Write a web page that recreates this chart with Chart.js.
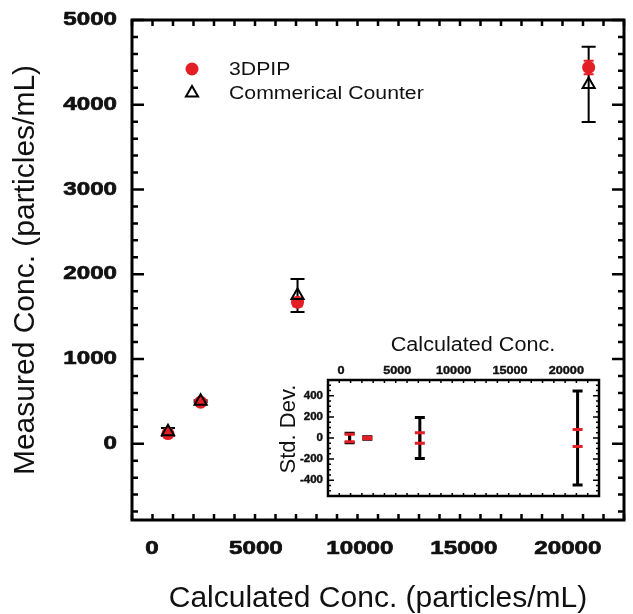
<!DOCTYPE html>
<html>
<head>
<meta charset="utf-8">
<script src="https://cdn.jsdelivr.net/npm/chart.js@4.4.1/dist/chart.umd.min.js"></script>
<style>
  html, body { margin: 0; padding: 0; background: #fff; }
  #wrap { position: relative; width: 633px; height: 614px; }
  #main { position: absolute; left: 0; top: 0; }
  #inset { position: absolute; left: 270px; top: 325px; }
</style>
</head>
<body>
<div id="wrap">
  <canvas id="main" width="633" height="614"></canvas>
  <canvas id="inset" width="340" height="180"></canvas>
</div>
<script>
// data
const seriesNames = ['3DPIP', 'Commerical Counter'];
const calcConc = [770, 2340, 7000, 21000];
const pipConc = [120, 490, 1670, 4440];
const pipSd = [35, 8, 50, 80];
const counterConc = [140, 500, 1750, 4240];
const counterSd = [45, 12, 195, 445];
const xTickLabels = [0, 5000, 10000, 15000, 20000];
const yTickLabels = [0, 1000, 2000, 3000, 4000, 5000];
const insetYTickLabels = [-400, -200, 0, 200, 400];

const RED = '#e31e25';
const INK = '#111';
const FONT = "'Liberation Sans', Arial, sans-serif";

function pts(xs, ys) { return xs.map((x, i) => ({x: x, y: ys[i]})); }

// the figure's lettering is a bit wide, so text gets a horizontal stretch
function text(ctx, str, x, y, o) {
  ctx.save();
  ctx.translate(x, y);
  if (o.rot) ctx.rotate(o.rot);
  ctx.scale(o.sx || 1, 1);
  ctx.font = o.font;
  ctx.fillStyle = INK;
  ctx.textAlign = o.align || 'center';
  ctx.textBaseline = 'middle';
  ctx.fillText(str, 0, 0);
  if (o.heavy) {
    ctx.strokeStyle = INK;
    ctx.lineWidth = o.heavy;
    ctx.lineJoin = 'round';
    ctx.strokeText(str, 0, 0);
  }
  ctx.restore();
}

// box round the plot with inward ticks on all four sides
function drawFrame(chart, o) {
  const {ctx, chartArea: a} = chart;
  const xs = chart.scales.x, ys = chart.scales.y;
  ctx.save();
  ctx.strokeStyle = '#000';
  ctx.lineWidth = o.tickWidth;
  ctx.beginPath();
  xs.ticks.forEach(t => {
    const p = xs.getPixelForValue(t.value);
    const L = t.value % o.xMajor === 0 ? o.major : o.minor;
    ctx.moveTo(p, a.bottom); ctx.lineTo(p, a.bottom - L);
    ctx.moveTo(p, a.top); ctx.lineTo(p, a.top + L);
  });
  ys.ticks.forEach(t => {
    const p = ys.getPixelForValue(t.value);
    const L = t.value % o.yMajor === 0 ? o.major : o.minor;
    ctx.moveTo(a.left, p); ctx.lineTo(a.left + L, p);
    ctx.moveTo(a.right, p); ctx.lineTo(a.right - L, p);
  });
  ctx.stroke();
  ctx.lineWidth = o.frameWidth;
  ctx.strokeRect(a.left, a.top, a.right - a.left, a.bottom - a.top);
  ctx.restore();
}

// vertical error bars, drawn from the scales
function drawBars(chart, bars) {
  const ctx = chart.ctx;
  const xs = chart.scales.x, ys = chart.scales.y;
  ctx.save();
  bars.forEach(b => {
    ctx.strokeStyle = b.color;
    ctx.lineWidth = b.width;
    b.x.forEach((xv, i) => {
      const px = xs.getPixelForValue(xv);
      const c = b.y ? b.y[i] : 0;
      const top = ys.getPixelForValue(c + b.sd[i]);
      const bot = ys.getPixelForValue(c - b.sd[i]);
      ctx.beginPath();
      if (b.stem) { ctx.moveTo(px, top); ctx.lineTo(px, bot); }
      if (b.caps) {
        ctx.moveTo(px - b.cap, top); ctx.lineTo(px + b.cap, top);
        ctx.moveTo(px - b.cap, bot); ctx.lineTo(px + b.cap, bot);
      }
      ctx.stroke();
    });
  });
  ctx.restore();
}

const mainPlugin = {
  id: 'mainDecor',
  beforeDatasetsDraw(chart) {
    drawBars(chart, [
      {x: calcConc, y: counterConc, sd: counterSd, color: '#000', width: 2, cap: 7, stem: true, caps: true},
      {x: calcConc, y: pipConc, sd: pipSd, color: RED, width: 2, cap: 5, stem: true, caps: true}
    ]);
  },
  afterDraw(chart) {
    const {ctx, chartArea: a, scales: {x, y}} = chart;
    drawFrame(chart, {xMajor: 5000, yMajor: 1000, major: 12, minor: 6, tickWidth: 2.5, frameWidth: 3});
    const tickFont = 'bold 19px ' + FONT;
    xTickLabels.forEach(v => text(ctx, String(v), x.getPixelForValue(v), a.bottom + 29, {font: tickFont, sx: 1.27, heavy: 0.7}));
    yTickLabels.forEach(v => text(ctx, String(v), a.left - 15, y.getPixelForValue(v), {font: tickFont, sx: 1.27, heavy: 0.7, align: 'right'}));
    text(ctx, 'Calculated Conc. (particles/mL)', (a.left + a.right) / 2, 599, {font: '30px ' + FONT});
    text(ctx, 'Measured Conc. (particles/mL)', 26, (a.top + a.bottom) / 2, {font: '30px ' + FONT, rot: -Math.PI / 2});

    // legend
    ctx.save();
    ctx.fillStyle = RED; ctx.strokeStyle = RED;
    Chart.helpers.drawPoint(ctx, {pointStyle: 'circle', radius: 6.5, borderWidth: 0}, 192, 69);
    ctx.fillStyle = 'rgba(0,0,0,0)'; ctx.strokeStyle = '#000'; ctx.lineWidth = 2;
    Chart.helpers.drawPoint(ctx, {pointStyle: 'triangle', radius: 7, borderWidth: 2}, 192, 93);
    ctx.restore();
    text(ctx, seriesNames[0], 229, 70, {font: '18px ' + FONT, sx: 1.18, align: 'left'});
    text(ctx, seriesNames[1], 229, 94, {font: '18px ' + FONT, sx: 1.18, align: 'left'});
  }
};

const insetPlugin = {
  id: 'insetDecor',
  beforeDraw(chart) {
    const {ctx, chartArea: a} = chart;
    ctx.save();
    ctx.fillStyle = '#fff';
    ctx.fillRect(a.left, a.top, a.right - a.left, a.bottom - a.top);
    ctx.restore();
  },
  afterDraw(chart) {
    const {ctx, chartArea: a, scales: {x, y}} = chart;
    drawBars(chart, [
      {x: calcConc, sd: pipSd, color: RED, width: 3, cap: 5, stem: true, caps: false},
      {x: calcConc, sd: counterSd, color: '#000', width: 3, cap: 5, stem: true, caps: true},
      {x: calcConc, sd: pipSd, color: RED, width: 3, cap: 5, stem: false, caps: true}
    ]);
    drawFrame(chart, {xMajor: 5000, yMajor: 200, major: 6, minor: 3, tickWidth: 1.5, frameWidth: 2.5});
    const tickFont = 'bold 11px ' + FONT;
    xTickLabels.forEach(v => text(ctx, String(v), x.getPixelForValue(v), a.top - 9, {font: tickFont, sx: 1.15, heavy: 0.4}));
    insetYTickLabels.forEach(v => text(ctx, String(v), a.left - 5, y.getPixelForValue(v), {font: tickFont, sx: 1.05, heavy: 0.4, align: 'right'}));
    text(ctx, 'Calculated Conc.', 203, 20, {font: '20px ' + FONT, sx: 1.08});
    text(ctx, 'Std. Dev.', 19, 104, {font: '22px ' + FONT, rot: -Math.PI / 2});
  }
};

function quietAxis(extra) {
  return Object.assign({
    type: 'linear',
    grid: { display: false, drawTicks: false },
    border: { display: false },
    ticks: { display: false },
    title: { display: false }
  }, extra);
}

new Chart(document.getElementById('main'), {
  type: 'scatter',
  data: {
    datasets: [{
      label: seriesNames[0],
      data: pts(calcConc, pipConc),
      pointStyle: 'circle',
      pointRadius: 6.5,
      backgroundColor: RED,
      borderColor: RED,
      borderWidth: 0,
      order: 2
    }, {
      label: seriesNames[1],
      data: pts(calcConc, counterConc),
      pointStyle: 'triangle',
      pointRadius: 7,
      backgroundColor: 'rgba(0,0,0,0)',
      borderColor: '#000',
      borderWidth: 2,
      order: 1
    }]
  },
  options: {
    responsive: false,
    animation: false,
    devicePixelRatio: 1,
    layout: { padding: {top: 20, right: 7, left: 0, bottom: 0} },
    plugins: { legend: { display: false }, tooltip: { enabled: false } },
    scales: {
      x: quietAxis({
        min: -960, max: 22700,
        ticks: { display: false, stepSize: 1000, includeBounds: false },
        afterFit: s => { s.height = 94; }
      }),
      y: quietAxis({
        min: -900, max: 5000,
        ticks: { display: false, stepSize: 200, includeBounds: false },
        afterFit: s => { s.width = 132; }
      })
    }
  },
  plugins: [mainPlugin]
});

new Chart(document.getElementById('inset'), {
  type: 'scatter',
  data: {
    datasets: [{
      label: seriesNames[1],
      data: pts(calcConc, calcConc.map(() => 0)),
      pointRadius: 0
    }]
  },
  options: {
    responsive: false,
    animation: false,
    devicePixelRatio: 1,
    layout: { padding: {top: 0, right: 11, left: 0, bottom: 9} },
    plugins: { legend: { display: false }, tooltip: { enabled: false } },
    scales: {
      x: quietAxis({
        position: 'top',
        min: -1150, max: 22900,
        ticks: { display: false, stepSize: 1000, includeBounds: false },
        afterFit: s => { s.height = 55; }
      }),
      y: quietAxis({
        min: -550, max: 550,
        ticks: { display: false, stepSize: 50, includeBounds: false },
        afterFit: s => { s.width = 58; }
      })
    }
  },
  plugins: [insetPlugin]
});
</script>
</body>
</html>
